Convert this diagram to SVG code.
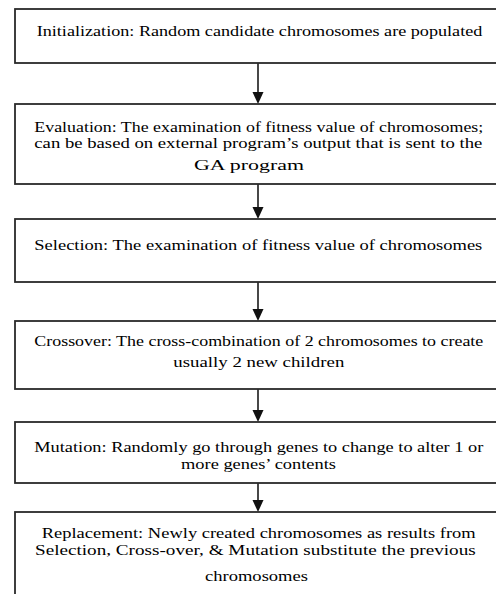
<svg xmlns="http://www.w3.org/2000/svg" width="496" height="594" viewBox="0 0 496 594">
<style>
.box{fill:#fff;stroke:#2a2a2a;stroke-width:1.8}
.t{font-family:'Liberation Serif','Times New Roman',Times,serif;font-size:15px;fill:#000}
.c{stroke:#1a1a1a;stroke-width:1.6;fill:none}
.h{fill:#111}
</style>
<rect width="496" height="594" fill="#fff"/>
<g id="connectors">
<line class="c" x1="258" y1="63" x2="258" y2="92"/>
<path class="h" d="M252.5,92 L263.5,92 L258,104 Z"/>
<line class="c" x1="258" y1="184" x2="258" y2="207"/>
<path class="h" d="M252.5,207 L263.5,207 L258,219 Z"/>
<line class="c" x1="258" y1="282" x2="258" y2="309"/>
<path class="h" d="M252.5,309 L263.5,309 L258,321 Z"/>
<line class="c" x1="258" y1="389" x2="258" y2="410"/>
<path class="h" d="M252.5,410 L263.5,410 L258,422 Z"/>
<line class="c" x1="258" y1="483" x2="258" y2="500"/>
<path class="h" d="M252.5,500 L263.5,500 L258,512 Z"/>
</g>
<g font-family="Liberation Serif, Times New Roman, serif">
<g id="initialization">
<rect class="box" x="15" y="9" width="490" height="54"/>
<text class="t" x="36.7" y="36" textLength="445.6" lengthAdjust="spacingAndGlyphs">Initialization: Random candidate chromosomes are populated</text>
</g>
<g id="evaluation">
<rect class="box" x="15" y="104" width="490" height="80"/>
<text class="t" x="34.3" y="131.5" textLength="449" lengthAdjust="spacingAndGlyphs">Evaluation: The examination of fitness value of chromosomes;</text>
<text class="t" x="34.3" y="148" textLength="448" lengthAdjust="spacingAndGlyphs">can be based on external program’s output that is sent to the</text>
<text class="t" x="194" y="170" textLength="110" lengthAdjust="spacingAndGlyphs">GA program</text>
</g>
<g id="selection">
<rect class="box" x="15" y="219" width="490" height="63"/>
<text class="t" x="34.3" y="250" textLength="448" lengthAdjust="spacingAndGlyphs">Selection: The examination of fitness value of chromosomes</text>
</g>
<g id="crossover">
<rect class="box" x="15" y="321" width="490" height="68"/>
<text class="t" x="34.3" y="346" textLength="449" lengthAdjust="spacingAndGlyphs">Crossover: The cross-combination of 2 chromosomes to create</text>
<text class="t" x="173.3" y="367" textLength="171" lengthAdjust="spacingAndGlyphs">usually 2 new children</text>
</g>
<g id="mutation">
<rect class="box" x="15" y="422" width="490" height="61"/>
<text class="t" x="34.3" y="452" textLength="449" lengthAdjust="spacingAndGlyphs">Mutation: Randomly go through genes to change to alter 1 or</text>
<text class="t" x="181" y="469" textLength="155" lengthAdjust="spacingAndGlyphs">more genes’ contents</text>
</g>
<g id="replacement">
<rect class="box" x="15" y="512" width="490" height="100"/>
<text class="t" x="41.7" y="537.5" textLength="434" lengthAdjust="spacingAndGlyphs">Replacement: Newly created chromosomes as results from</text>
<text class="t" x="35" y="555" textLength="440.7" lengthAdjust="spacingAndGlyphs">Selection, Cross-over, &amp; Mutation substitute the previous</text>
<text class="t" x="205" y="581" textLength="103" lengthAdjust="spacingAndGlyphs">chromosomes</text>
</g>
</g>
</svg>
